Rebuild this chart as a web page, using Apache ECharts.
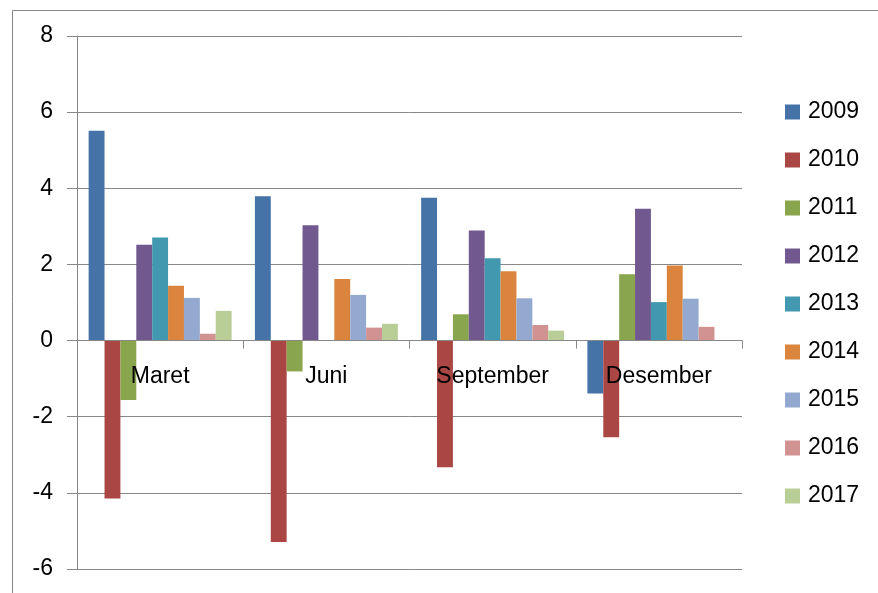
<!DOCTYPE html>
<html>
<head>
<meta charset="utf-8">
<script src="https://cdn.jsdelivr.net/npm/echarts@6/dist/echarts.min.js"></script>
<style>
  html, body { margin: 0; padding: 0; background: #fff; }
  #chart { width: 878px; height: 593px; }
</style>
</head>
<body>
<div id="chart"></div>
<script>
// Quarterly values per year
const categories = ['Maret', 'Juni', 'September', 'Desember'];
const years = ['2009', '2010', '2011', '2012', '2013', '2014', '2015', '2016', '2017'];
const v2009 = [5.51, 3.79, 3.75, -1.39];
const v2010 = [-4.15, -5.29, -3.33, -2.54];
const v2011 = [-1.56, -0.81, 0.69, 1.74];
const v2012 = [2.52, 3.03, 2.89, 3.46];
const v2013 = [2.71, null, 2.16, 1.01];
const v2014 = [1.44, 1.62, 1.82, 1.97];
const v2015 = [1.12, 1.20, 1.11, 1.10];
const v2016 = [0.18, 0.34, 0.41, 0.36];
const v2017 = [0.78, 0.44, 0.26, null];
const yTicks = { min: -6, max: 8, interval: 2 };

const seriesValues = [v2009, v2010, v2011, v2012, v2013, v2014, v2015, v2016, v2017];
const colors = ['#4572A7', '#AA4643', '#89A54E', '#71588F', '#4198AF', '#DB843D', '#93A9CF', '#D19392', '#B9CD96'];
const FONT = '"Liberation Sans", Arial, sans-serif';
const GRAY = '#878787';

const W = 878, H = 593;
const gridBox = { left: 77, right: 136, top: 36, bottom: 24 };
const plotH = H - gridBox.top - gridBox.bottom;
// lift the category axis (line, ticks and labels) from the bottom edge up to the value 0
const zeroLift = plotH * (0 - yTicks.min) / (yTicks.max - yTicks.min);

const chart = echarts.init(document.getElementById('chart'), null, { renderer: 'canvas' });

chart.setOption({
  animation: false,
  backgroundColor: '#ffffff',
  color: colors,
  textStyle: { fontFamily: FONT },
  grid: Object.assign({ containLabel: false, outerBoundsMode: 'none' }, gridBox),
  legend: {
    orient: 'vertical',
    left: 785,
    top: 100,
    padding: 0,
    itemWidth: 15,
    itemHeight: 15,
    itemGap: 24,
    icon: 'rect',
    textStyle: { fontSize: 23, color: '#000', lineHeight: 24, padding: [0, 0, 0, 3], fontFamily: FONT },
    data: years
  },
  xAxis: {
    type: 'category',
    data: categories,
    position: 'bottom',
    offset: -zeroLift,
    boundaryGap: true,
    axisLine: { show: true, onZero: false, lineStyle: { color: GRAY, width: 1 } },
    axisTick: { show: true, length: 8, inside: false, lineStyle: { color: GRAY } },
    axisLabel: { fontSize: 23, color: '#000', margin: 25, fontFamily: FONT },
    splitLine: { show: false },
    z: 5
  },
  yAxis: {
    type: 'value',
    min: yTicks.min,
    max: yTicks.max,
    interval: yTicks.interval,
    axisLine: { show: true, lineStyle: { color: GRAY, width: 1 } },
    axisTick: { show: true, length: 10, lineStyle: { color: GRAY } },
    axisLabel: { fontSize: 23, color: '#000', margin: 24, fontFamily: FONT },
    splitLine: { show: true, lineStyle: { color: GRAY, width: 1 } }
  },
  series: years.map((y, i) => ({
    name: y,
    type: 'bar',
    data: seriesValues[i],
    barGap: '0%',
    barCategoryGap: '14%',
    itemStyle: { color: colors[i] }
  })),
  graphic: [
    {
      type: 'polyline',
      silent: true,
      shape: { points: [[12.5, H], [12.5, 10.5], [W, 10.5]] },
      style: { stroke: GRAY, lineWidth: 1, fill: null }
    }
  ]
});
</script>
</body>
</html>
